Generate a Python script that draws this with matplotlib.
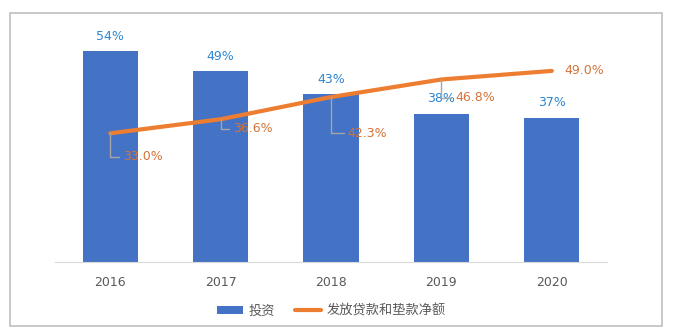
import matplotlib

matplotlib.use("Agg")
import matplotlib.pyplot as plt
from matplotlib.patches import Rectangle

plt.rcParams["font.family"] = ["Noto Sans CJK SC", "DejaVu Sans"]

years = ["2016", "2017", "2018", "2019", "2020"]
invest = [54, 49, 43, 38, 37]
loans = [33.0, 36.6, 42.3, 46.8, 49.0]
# label offsets (points) for the line labels, as drawn in the source
loan_label_offsets = [(9, -17), (9, -7), (12, -26), (10, -13), (9, 0)]

BAR = "#4472C4"
LINE = "#ED7D31"
BAR_TXT = "#2E86D1"
LINE_TXT = "#D4733A"
GREY = "#595959"

fig = plt.figure(figsize=(6.74, 3.34), dpi=100)
fig.patches.append(Rectangle((10 / 674, 8 / 334), 652 / 674, 313 / 334,
                             transform=fig.transFigure, fill=False,
                             edgecolor="#BFBFBF", lw=1.2))
ax = fig.add_axes([55 / 674, 72 / 334, 552 / 674, 234 / 334])

x = list(range(len(years)))
bars = ax.bar(x, invest, width=0.5, color=BAR, label="投资", zorder=2)
for xi, v in zip(x, invest):
    ax.annotate(f"{v}%", (xi, v), xytext=(0, 6), textcoords="offset points",
                ha="center", va="bottom", color=BAR_TXT, fontsize=9,
                family=["DejaVu Sans"])

line, = ax.plot(x, loans, color=LINE, lw=3, solid_capstyle="round",
                label="发放贷款和垫款净额", zorder=3)
for i, (xi, v) in enumerate(zip(x, loans)):
    dx, dy = loan_label_offsets[i]
    arrow = None
    if i < len(loans) - 1:
        arrow = dict(arrowstyle="-", color="#A6A6A6", lw=1,
                     connectionstyle="angle,angleA=0,angleB=90,rad=0",
                     shrinkA=1, shrinkB=0)
    ax.annotate(f"{v:.1f}%", (xi, v), xytext=(dx, dy), textcoords="offset points",
                ha="left", va="center", color=LINE_TXT, fontsize=9,
                family=["DejaVu Sans"], arrowprops=arrow, zorder=4)

ax.set_xlim(-0.5, len(years) - 0.5)
ax.set_ylim(0, 60)
ax.set_xticks(x)
ax.set_xticklabels(years, color=GREY, fontsize=9, family=["DejaVu Sans"])
ax.tick_params(axis="x", length=0, pad=10)
ax.set_yticks([])
for side in ("top", "right", "left"):
    ax.spines[side].set_visible(False)
ax.spines["bottom"].set_color("#D9D9D9")

ax.legend([bars, line], ["投资", "发放贷款和垫款净额"],
          loc="upper center", bbox_to_anchor=(0.5, -0.13), ncol=2, frameon=False,
          fontsize=9.5, labelcolor=GREY, handlelength=2.0, handleheight=0.5,
          handletextpad=0.4, columnspacing=1.5)

fig.savefig("out.png", dpi=100)
